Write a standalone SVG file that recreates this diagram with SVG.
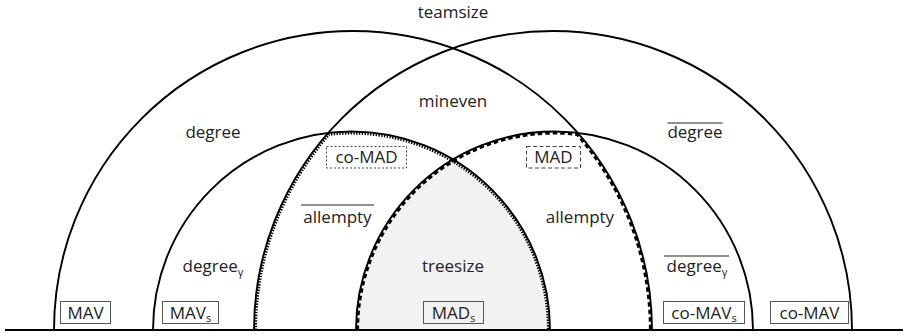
<svg xmlns="http://www.w3.org/2000/svg" width="905" height="336" viewBox="0 0 905 336">
  <style>
    .arc { fill: none; stroke: #000; stroke-width: 1.9; }
    .dot { fill: none; stroke: #000; stroke-width: 3.2; stroke-dasharray: 1.4 1.4; }
    .dash { fill: none; stroke: #000; stroke-width: 3.2; stroke-dasharray: 4.5 3; }
    .lbl { font-family: "Open Sans", "Noto Sans", sans-serif; font-size: 17px; fill: #222; text-anchor: middle; }
    .sub { font-size: 11px; }
    .box { fill: none; stroke: #555; stroke-width: 1; }
    .box-dot { fill: none; stroke: #444; stroke-width: 1; stroke-dasharray: 2 2; }
    .box-dash { fill: none; stroke: #444; stroke-width: 1; stroke-dasharray: 4 2.5; }
    .bar { stroke: #222; stroke-width: 1.2; }
  </style>

  <!-- shaded lens: intersection of the two medium circles -->
  <g id="MADs-region">
    <path d="M 356,330 A 198.5 198.5 0 0 1 453,159.4 A 198.5 198.5 0 0 1 550,330 Z" fill="#f2f2f2"/>
  </g>

  <g id="connectors">
    <!-- dotted border of co-MAD (big right ∩ medium left), drawn just inside -->
    <path class="dot" d="M 255.5,330 A 297.5 297.5 0 0 1 328.93,134.3 A 197 197 0 0 1 548.5,330"/>
    <!-- dashed border of MAD (big left ∩ medium right), drawn just inside -->
    <path class="dash" d="M 357.5,330 A 197 197 0 0 1 577.07,134.3 A 297.5 297.5 0 0 1 650.5,330"/>

    <!-- big semicircles -->
    <path class="arc" d="M 54,330 A 299 299 0 0 1 652,330"/>
    <path class="arc" d="M 254,330 A 299 299 0 0 1 852,330"/>
    <!-- medium semicircles -->
    <path class="arc" d="M 153,330 A 198.5 198.5 0 0 1 550,330"/>
    <path class="arc" d="M 356,330 A 198.5 198.5 0 0 1 753,330"/>
    <!-- baseline -->
    <line x1="5" y1="330" x2="903" y2="330" stroke="#000" stroke-width="2"/>
  </g>

  <g id="teamsize"><text class="lbl" x="453" y="18">teamsize</text></g>
  <g id="mineven"><text class="lbl" x="453" y="107">mineven</text></g>
  <g id="degree"><text class="lbl" x="213" y="138">degree</text></g>
  <g id="degree-bar">
    <line class="bar" x1="667.5" y1="123" x2="722.5" y2="123"/>
    <text class="lbl" x="695" y="138">degree</text>
  </g>

  <g id="co-MAD">
    <rect class="box-dot" x="326.5" y="146.5" width="80" height="21.5"/>
    <text class="lbl" x="366.5" y="163">co-MAD</text>
  </g>
  <g id="MAD">
    <rect class="box-dash" x="526.5" y="146.5" width="54" height="21.5"/>
    <text class="lbl" x="553.5" y="163">MAD</text>
  </g>

  <g id="allempty-bar">
    <line class="bar" x1="301" y1="205" x2="374" y2="205"/>
    <text class="lbl" x="337.5" y="223">allempty</text>
  </g>
  <g id="allempty"><text class="lbl" x="580" y="223">allempty</text></g>

  <g id="degree-gamma"><text class="lbl" x="213" y="272">degree<tspan class="sub" dy="4">γ</tspan></text></g>
  <g id="treesize"><text class="lbl" x="453" y="272">treesize</text></g>
  <g id="degree-gamma-bar">
    <line class="bar" x1="664" y1="256" x2="729" y2="256"/>
    <text class="lbl" x="697" y="272">degree<tspan class="sub" dy="4">γ</tspan></text>
  </g>

  <g id="MAV">
    <rect class="box" x="60.5" y="301.5" width="50" height="22"/>
    <text class="lbl" x="85.5" y="318.5">MAV</text>
  </g>
  <g id="MAVs">
    <rect class="box" x="162.5" y="301.5" width="56" height="22"/>
    <text class="lbl" x="190.5" y="318.5">MAV<tspan class="sub" dy="3">s</tspan></text>
  </g>
  <g id="MADs">
    <rect class="box" x="423.5" y="301.5" width="60" height="22"/>
    <text class="lbl" x="453.5" y="318.5">MAD<tspan class="sub" dy="3">s</tspan></text>
  </g>
  <g id="co-MAVs">
    <rect class="box" x="663.5" y="301.5" width="81" height="22"/>
    <text class="lbl" x="704" y="318.5">co-MAV<tspan class="sub" dy="3">s</tspan></text>
  </g>
  <g id="co-MAV">
    <rect class="box" x="770.5" y="301.5" width="78" height="22"/>
    <text class="lbl" x="809.5" y="318.5">co-MAV</text>
  </g>
</svg>
